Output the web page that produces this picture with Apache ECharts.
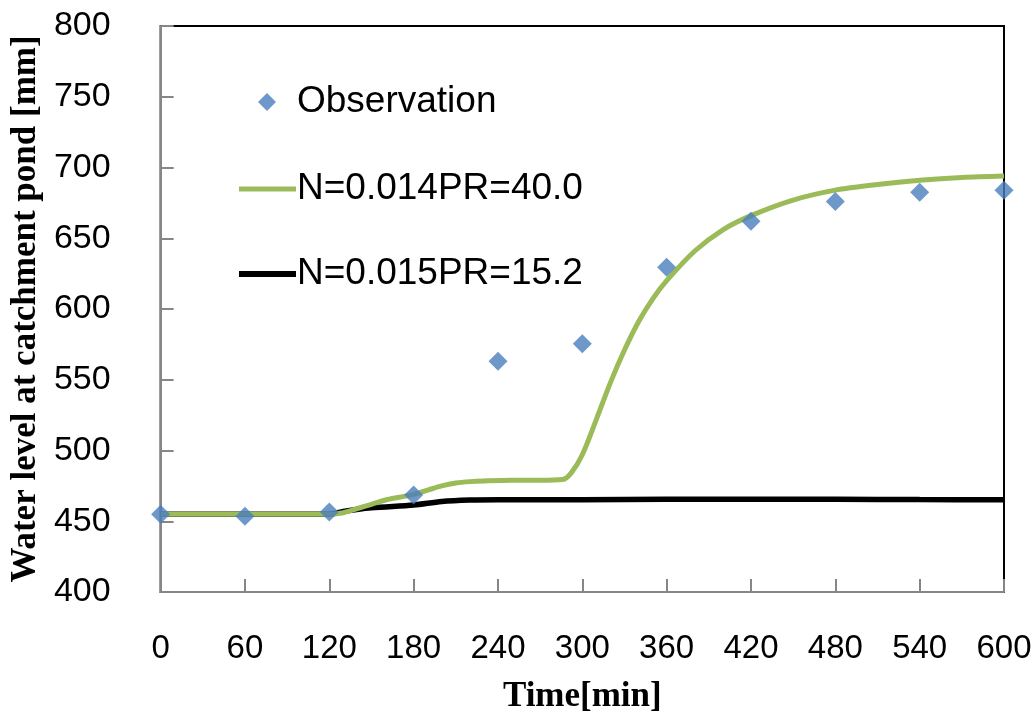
<!DOCTYPE html>
<html>
<head>
<meta charset="utf-8">
<script src="https://cdn.jsdelivr.net/npm/echarts@6/dist/echarts.min.js"></script>
<style>
  html, body { margin: 0; padding: 0; background: #fff; }
  #chart { width: 1036px; height: 724px; }
</style>
</head>
<body>
<div id="chart"></div>
<script>
// observed water level
var obsTime = [0, 60, 120, 180, 240, 300, 360, 420, 480, 540, 600];
var obsLevel = [455, 453.5, 456.5, 468.5, 563, 575.5, 629.5, 662, 676, 682.5, 684];

// simulated, N=0.014 PR=40.0
var greenTime = [0, 60, 120, 130, 140, 150, 160, 170, 180, 190, 200, 210, 220, 230, 250, 270, 286, 292, 300, 310, 320, 330, 340, 350, 360, 380, 400, 420, 450, 480, 510, 540, 570, 600];
var greenLevel = [455, 455, 455, 456, 459, 462, 465, 467, 469, 472, 475, 477, 478, 478.5, 479, 479, 479.5, 484, 497, 522, 548, 571, 591, 607, 620, 641, 656, 666, 677, 684, 688, 691, 693, 694];

// simulated, N=0.015 PR=15.2
var blackTime = [0, 60, 120, 130, 150, 180, 200, 220, 240, 300, 360, 420, 480, 540, 600];
var blackLevel = [455, 455, 455, 457, 459.5, 461.5, 464, 465, 465.2, 465.2, 465.5, 465.5, 465.5, 465.3, 465.2];

var xTicks = [0, 60, 120, 180, 240, 300, 360, 420, 480, 540, 600];
var yTicks = [400, 450, 500, 550, 600, 650, 700, 750, 800];

var names = ['Observation', 'N=0.014PR=40.0', 'N=0.015PR=15.2'];
var colors = ['#4a7ebb', '#9bbb59', '#000000'];

function pairs(xs, ys) {
    var out = [];
    for (var i = 0; i < xs.length; i++) out.push([xs[i], ys[i]]);
    return out;
}

var chart = echarts.init(document.getElementById('chart'));

var axisGray = '#868686';
var legendText = { fontFamily: 'Liberation Sans', fontSize: 37, color: '#000', lineHeight: 42 };

var option = {
    animation: false,
    backgroundColor: '#fff',
    grid: {
        left: 159, right: 32, top: 26, bottom: 132,
        show: true, borderColor: '#000', borderWidth: 2, backgroundColor: 'transparent'
    },
    legend: [{
        data: [{ name: names[0], icon: 'diamond' }],
        left: 253, top: 76, itemWidth: 18, itemHeight: 18,
        textStyle: Object.assign({ padding: [0, 0, 0, 16] }, legendText)
    }, {
        data: [{ name: names[1], icon: 'rect' }],
        left: 234, top: 163, itemWidth: 57, itemHeight: 5,
        textStyle: Object.assign({ padding: [0, 0, 0, -4] }, legendText)
    }, {
        data: [{ name: names[2], icon: 'rect' }],
        left: 234, top: 248, itemWidth: 57, itemHeight: 6,
        textStyle: Object.assign({ padding: [0, 0, 0, -4] }, legendText)
    }],
    xAxis: {
        type: 'value', min: 0, max: 600, interval: 60,
        name: 'Time[min]', nameLocation: 'middle', nameGap: 87,
        nameTextStyle: { fontFamily: 'Liberation Serif', fontWeight: 'bold', fontSize: 35, color: '#000', verticalAlign: 'top' },
        axisLine: { lineStyle: { color: axisGray, width: 2 } },
        axisTick: { inside: true, length: 13, lineStyle: { color: axisGray, width: 2 } },
        axisLabel: {
            margin: 40, fontFamily: 'Liberation Sans', fontSize: 33, color: '#000',
            formatter: function (v) { return xTicks.indexOf(v) >= 0 ? String(v) : ''; }
        },
        splitLine: { show: false }
    },
    yAxis: {
        type: 'value', min: 400, max: 800, interval: 50,
        name: 'Water level at catchment pond [mm]', nameLocation: 'middle', nameGap: 117,
        nameTextStyle: { fontFamily: 'Liberation Serif', fontWeight: 'bold', fontSize: 35, color: '#000' },
        axisLine: { show: true, lineStyle: { color: axisGray, width: 2 } },
        axisTick: { show: true, inside: true, length: 13, lineStyle: { color: axisGray, width: 2 } },
        axisLabel: {
            margin: 50, fontFamily: 'Liberation Sans', fontSize: 34, color: '#000',
            formatter: function (v) { return yTicks.indexOf(v) >= 0 ? String(v) : ''; }
        },
        splitLine: { show: false }
    },
    series: [{
        name: names[2], type: 'line', data: pairs(blackTime, blackLevel),
        smooth: 0.3, showSymbol: false, symbol: 'none', z: 2,
        itemStyle: { color: colors[2] },
        lineStyle: { color: colors[2], width: 5.5 }
    }, {
        name: names[1], type: 'line', data: pairs(greenTime, greenLevel),
        smooth: 0.3, showSymbol: false, symbol: 'none', z: 3,
        itemStyle: { color: colors[1] },
        lineStyle: { color: colors[1], width: 5 }
    }, {
        name: names[0], type: 'scatter', data: pairs(obsTime, obsLevel),
        symbol: 'diamond', symbolSize: 19, z: 4,
        itemStyle: { color: colors[0] }
    }]
};

chart.setOption(option);
</script>
</body>
</html>
